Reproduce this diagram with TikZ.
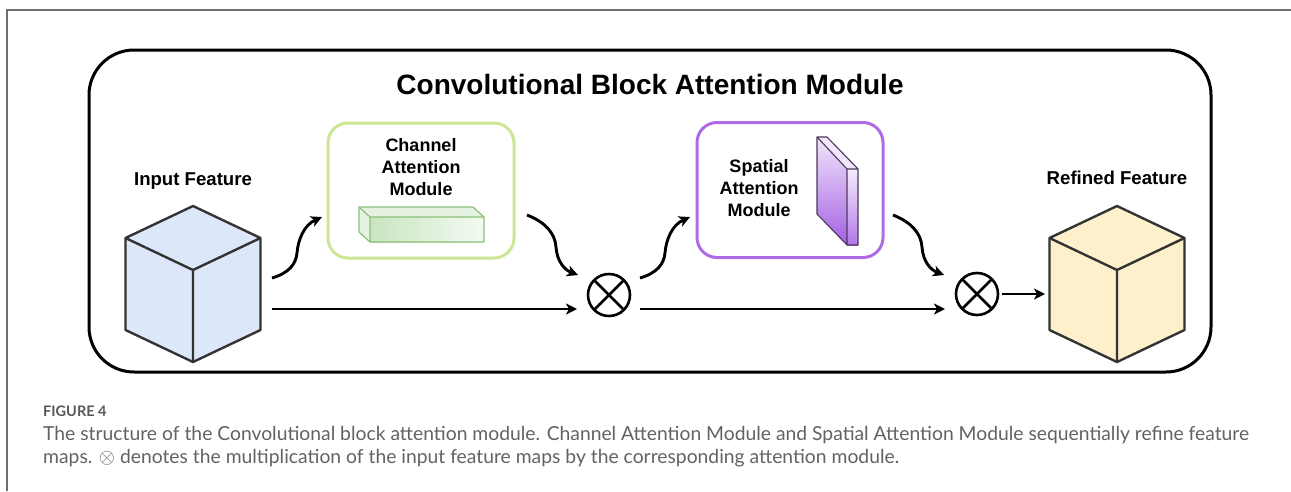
\documentclass[tikz,border=0pt]{standalone}
\usepackage{fontspec}
\setmainfont{Liberation Sans}
\newfontfamily\captionfont{Lato}
\usetikzlibrary{arrows.meta,calc}

\definecolor{pageline}{HTML}{707070}
\definecolor{cubeline}{HTML}{333333}
\definecolor{inputfill}{HTML}{DCE8FA}
\definecolor{refinedfill}{HTML}{FFF0CC}
\definecolor{chanborder}{HTML}{CCE693}
\definecolor{spatborder}{HTML}{B06AE6}
\definecolor{barline}{HTML}{8CC07A}
\definecolor{barleft}{HTML}{C8E5C0}
\definecolor{barright}{HTML}{F4FAF2}
\definecolor{barside}{HTML}{E6F2E2}
\definecolor{slabline}{HTML}{4A3A5C}
\definecolor{slabtop}{HTML}{F1E6FB}
\definecolor{slabbot}{HTML}{A45FE3}
\definecolor{capgrey}{HTML}{626262}

\tikzset{
  outerbox/.style={draw=black, line width=3pt, rounded corners=45pt, inner sep=0pt},
  modbox/.style={draw=#1, line width=3pt, rounded corners=20pt,
    minimum width=186pt, minimum height=135pt, inner sep=0pt},
  cubeface/.style={draw=cubeline, line width=2.4pt, line join=round},
  flow/.style={line width=2.9pt, -{Stealth[length=11pt,width=11pt,inset=3pt]}},
  mult/.style={circle, draw, line width=2.6pt, minimum size=42pt, inner sep=0pt, outer sep=0pt},
  heading/.style={font=\bfseries\fontsize{28}{32}\selectfont, inner sep=0pt},
  featlabel/.style={font=\bfseries\fontsize{18.6}{22}\selectfont, inner sep=0pt, anchor=base},
  boxtext/.style={font=\bfseries\fontsize{18}{22}\selectfont, align=center, inner sep=0pt},
  captext/.style={font=\captionfont\fontsize{19.3}{23}\selectfont, text=capgrey, inner sep=0pt, anchor=base west},
}

% isometric feature cube: name, centre x, face colour
\newcommand\featurecube[3]{%
  \node[minimum width=135pt, minimum height=156pt, inner sep=0pt, outer sep=0pt] (#1) at (#2,284) {};
  \draw[cubeface, fill=#3] (#1.north) -- ++(67.5,32) -- ++(0,92) -- (#1.south)
        -- ++(-67.5,-32) -- ++(0,-92) -- cycle;
  \draw[cubeface] ($(#1.north)+(-67.5,32)$) -- ($(#1.north)+(0,64)$) -- ($(#1.north)+(67.5,32)$)
        ($(#1.north)+(0,64)$) -- (#1.south);
}

\begin{document}
\begin{tikzpicture}[x=1pt,y=-1pt]
\useasboundingbox (0,0) rectangle (1291,491);

% page frame
\draw[pageline, line width=1.4pt] (7,491) -- (7,10) -- (1291,10);

% module container and title
\node[outerbox, minimum width=1122pt, minimum height=322pt] (cbam) at (650,211) {};
\node[heading, anchor=base] (title) at (650,94) {Convolutional Block Attention Module};

% input feature
\featurecube{incube}{193}{inputfill}
\node[featlabel] (inlabel) at (193,185) {Input Feature};

% channel attention module
\node[modbox=chanborder] (cam) at (421,190.5) {};
\node[boxtext] (camtext) at (421,167) {Channel\\Attention\\Module};
\fill[barside] (359,207) -- (473,207) -- (484,217) -- (370,217) -- cycle;
\fill[barside] (359,207) -- (370,217) -- (370,242) -- (359,232) -- cycle;
\shade[left color=barleft, right color=barright] (370,217) rectangle (484,242);
\draw[barline, line width=1.2pt, line join=round]
  (359,207) -- (473,207) -- (484,217) -- (484,242) -- (370,242) -- (359,232) -- cycle
  (359,207) -- (370,217) -- (484,217) (370,217) -- (370,242);

% spatial attention module
\node[modbox=spatborder] (sam) at (790,190) {};
\node[boxtext] (samtext) at (759,188) {Spatial\\Attention\\Module};
\fill[slabtop] (817,137) -- (827,137) -- (858,169) -- (847,169) -- cycle;
\shade[top color=slabtop, bottom color=slabbot] (817,137) -- (847,169) -- (847,245) -- (817,214) -- cycle;
\shade[top color=slabtop!70!white, bottom color=slabbot!85!white] (847,169) rectangle (858,245);
\draw[slabline, line width=1.1pt, line join=round]
  (817,137) -- (827,137) -- (858,169) -- (858,245) -- (847,245) -- (817,214) -- cycle
  (817,137) -- (847,169) -- (858,169) (847,169) -- (847,245);

% multiplication nodes
\node[mult] (m1) at (609,295) {};
\draw[line width=2.6pt] (m1.north east) -- (m1.south west) (m1.north west) -- (m1.south east);
\node[mult] (m2) at (977,294) {};
\draw[line width=2.6pt] (m2.north east) -- (m2.south west) (m2.north west) -- (m2.south east);

% refined feature
\featurecube{outcube}{1117}{refinedfill}
\node[featlabel] (outlabel) at (1117,184) {Refined Feature};

% connector end points
\coordinate (inUp) at (272,278);
\coordinate (inSkip) at (272,309);
\coordinate (camIn) at (322,217);
\coordinate (camOut) at (527,215);
\coordinate (m1In) at (578,275);
\coordinate (m1Skip) at (577,309);
\coordinate (m1Up) at (640,278);
\coordinate (m1Out) at (640,309);
\coordinate (samIn) at (690,217);
\coordinate (samOut) at (893,215);
\coordinate (m2In) at (944,275);
\coordinate (m2Skip) at (945,309);

% attention branches
\draw[flow] (inUp) .. controls (289,273) and (296,264) .. (297,253)
  .. controls (298,240) and (304,225) .. (camIn);
\draw[flow] (camOut) .. controls (545,222) and (555,233) .. (556,247)
  .. controls (557,262) and (565,270) .. (m1In);
\draw[flow] (m1Up) .. controls (657,273) and (664,264) .. (665,253)
  .. controls (666,240) and (672,225) .. (samIn);
\draw[flow] (samOut) .. controls (911,222) and (921,233) .. (922,247)
  .. controls (923,262) and (931,270) .. (m2In);

% identity paths
\draw[flow] (inSkip) -- (m1Skip);
\draw[flow] (m1Out) -- (m2Skip);
\draw[flow, shorten <=4pt, shorten >=4.5pt] (m2.east) -- (m2.east -| outcube.west);

% caption
\node[anchor=base west, inner sep=0pt, font=\captionfont\bfseries\fontsize{14.5}{16}\selectfont, text=capgrey!90!black] (fig) at (43,416) {FIGURE 4};
\node[captext] (cap1) at (43,440) {The structure of the Convolutional block attention module. Channel Attention Module and Spatial Attention Module sequentially refine feature};
\node[captext] (cap2) at (43,463) {maps. $\otimes$ denotes the multiplication of the input feature maps by the corresponding attention module.};
\end{tikzpicture}
\end{document}
